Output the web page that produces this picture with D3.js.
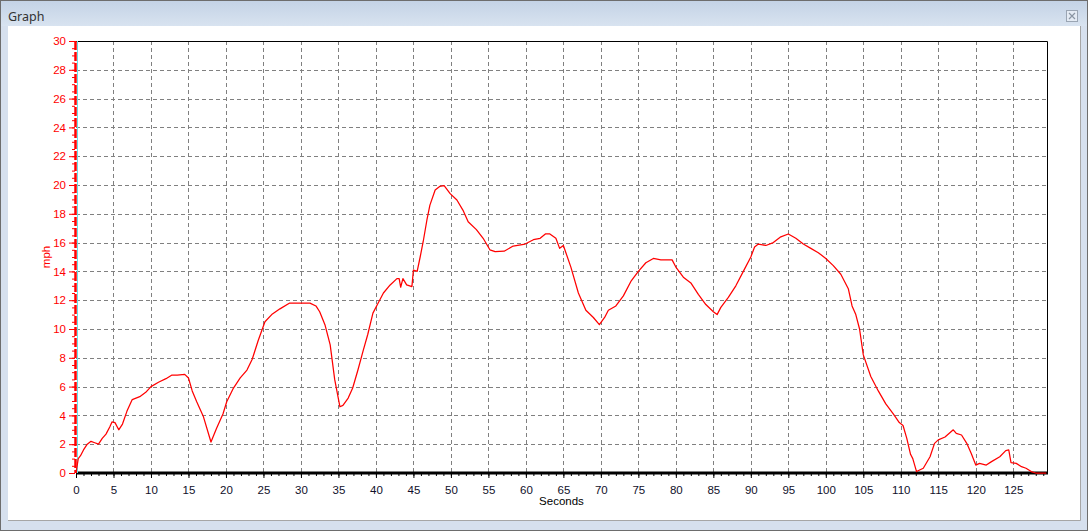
<!DOCTYPE html>
<html>
<head>
<meta charset="utf-8">
<script src="https://cdn.jsdelivr.net/npm/d3@7"></script>
<style>
  body { margin: 0; background: #d6e0ee; }
  svg { display: block; }
</style>
</head>
<body>
<div id="chart"></div>
<script>
// speed trace
var seconds = [0, 0.3, 0.6, 1, 1.5, 2, 2.5, 3, 3.5, 4, 4.5, 4.8, 5.2, 5.7, 6.2, 6.8, 7.5, 8.5, 9.3, 10,
  11, 12, 12.8, 13.5, 14.5, 15, 15.5, 16.1, 17, 18, 18.75, 19.6, 20.1, 21, 21.9, 22.8, 23.5, 24.3, 25.2, 26.1,
  27.2, 28.5, 30, 31.2, 32, 32.5, 33.2, 33.9, 34.5, 35.2, 35.6, 36.3, 36.9, 37.6, 38.3, 38.9, 39.6, 40.3, 41, 41.9,
  42.8, 43.1, 43.3, 43.6, 44.1, 44.8, 45, 45.5, 45.9, 46.3, 46.8, 47.2, 47.9, 48.5, 49.1, 49.9, 50.8, 51.6, 52.3, 53.4,
  54.3, 55.2, 55.9, 57.1, 58.3, 59.9, 61, 61.9, 62.6, 63.2, 64, 64.5, 65, 66, 67, 68, 69, 69.8, 70.5, 71,
  72, 73, 74, 75, 76, 77, 78, 79.5, 80, 81, 82, 83, 84, 85, 85.5, 86, 87, 88, 89, 90,
  90.5, 91, 92, 93, 94, 95, 96, 97, 98, 99, 100, 101, 102, 103, 103.5, 104, 104.5, 105, 106, 107,
  108, 109, 109.8, 110.3, 110.8, 111.3, 111.6, 112.1, 113, 113.9, 114.5, 115, 115.9, 117, 117.4, 118.1, 118.8, 119.4, 120, 120.5,
  121.4, 122.1, 123.2, 124, 124.4, 124.7, 125.4, 126.1, 126.7, 127.4, 128, 129.4];
var mph = [0, 1.0, 1.2, 1.6, 2.0, 2.2, 2.1, 2.0, 2.4, 2.7, 3.2, 3.55, 3.5, 3.0, 3.4, 4.3, 5.1, 5.3, 5.6, 6.0,
  6.3, 6.55, 6.8, 6.8, 6.85, 6.6, 5.7, 4.95, 3.9, 2.15, 3.1, 4.1, 4.95, 5.9, 6.6, 7.15, 7.9, 9.2, 10.5, 11.0,
  11.4, 11.8, 11.8, 11.8, 11.6, 11.2, 10.3, 8.9, 6.5, 4.6, 4.7, 5.2, 5.9, 7.15, 8.5, 9.6, 11.1, 11.8, 12.5, 13.06,
  13.5, 13.5, 12.9, 13.5, 13.06, 12.94, 14.1, 14.0, 15.0, 16.06, 17.57, 18.6, 19.65, 19.9, 19.95, 19.4, 18.96, 18.26, 17.45, 16.9,
  16.3, 15.5, 15.37, 15.4, 15.76, 15.9, 16.2, 16.3, 16.6, 16.6, 16.3, 15.6, 15.8, 14.3, 12.5, 11.3, 10.8, 10.3, 10.8, 11.3,
  11.6, 12.3, 13.3, 14.0, 14.6, 14.9, 14.8, 14.8, 14.3, 13.6, 13.2, 12.4, 11.7, 11.2, 11.0, 11.5, 12.2, 13.0, 14.0, 15.0,
  15.7, 15.9, 15.8, 16.0, 16.4, 16.6, 16.3, 15.9, 15.6, 15.3, 14.9, 14.4, 13.8, 12.8, 11.6, 11.0, 10.0, 8.2, 6.7, 5.7,
  4.8, 4.1, 3.5, 3.3, 2.4, 1.3, 1.0, 0.1, 0.33, 1.13, 2.06, 2.3, 2.5, 3.0, 2.75, 2.64, 2.06, 1.36, 0.55, 0.67,
  0.55, 0.79, 1.13, 1.55, 1.6, 0.72, 0.67, 0.44, 0.33, 0.1, 0, 0];

var xTicks = d3.range(0, 126, 5);
var yTicks = d3.range(0, 31, 2);

var W = 1088, H = 531;
var margin = {left: 76, top: 41, right: 1047, bottom: 473};

var svg = d3.select("#chart").append("svg")
    .attr("width", W)
    .attr("height", H);

// window frame
var defs = svg.append("defs");
var grad = defs.append("linearGradient").attr("id", "titlebar")
    .attr("x1", 0).attr("y1", 0).attr("x2", 0).attr("y2", 1);
grad.append("stop").attr("offset", "0%").attr("stop-color", "#c3d2e5");
grad.append("stop").attr("offset", "100%").attr("stop-color", "#d8e3f0");

svg.append("rect").attr("width", W).attr("height", H).attr("fill", "#d6e0ee");
svg.append("rect").attr("x", 0).attr("y", 0).attr("width", W).attr("height", 26).attr("fill", "url(#titlebar)");
svg.append("rect").attr("x", 0.5).attr("y", 0.5).attr("width", W - 1).attr("height", H - 1)
    .attr("fill", "none").attr("stroke", "#6d6d6d");
svg.append("rect").attr("x", 8).attr("y", 26).attr("width", 1072).attr("height", 494).attr("fill", "#fff");
svg.append("path").attr("d", "M1080.5,26V520.5H8").attr("fill", "none").attr("stroke", "#a6a6a6");

svg.append("text").attr("x", 8).attr("y", 21)
    .style("font-family", "Noto Sans, sans-serif").style("font-size", "12.5px")
    .attr("fill", "#333").text("Graph");

// close button
svg.append("rect").attr("x", 1066.5).attr("y", 10.5).attr("width", 11).attr("height", 11)
    .attr("fill", "#e4ebf4").attr("stroke", "#9aa5b3");
svg.append("path").attr("d", "M1069,13L1075,19M1075,13L1069,19")
    .attr("stroke", "#8a95a3").attr("stroke-width", 1.2);

var x = d3.scaleLinear().domain([0, 129.5]).range([margin.left, margin.right]);
var y = d3.scaleLinear().domain([0, 30]).range([margin.bottom, margin.top]);

// grid
var grid = svg.append("g").attr("stroke", "#808080").attr("stroke-dasharray", "4,3");
grid.selectAll(".gx").data(xTicks.filter(function(d) { return d > 0; }))
  .enter().append("line")
    .attr("x1", function(d) { return Math.round(x(d)) + 0.5; })
    .attr("x2", function(d) { return Math.round(x(d)) + 0.5; })
    .attr("y1", margin.top).attr("y2", margin.bottom);
grid.selectAll(".gy").data(yTicks.filter(function(d) { return d > 0 && d < 30; }))
  .enter().append("line")
    .attr("y1", function(d) { return Math.round(y(d)) + 0.5; })
    .attr("y2", function(d) { return Math.round(y(d)) + 0.5; })
    .attr("x1", margin.left).attr("x2", margin.right);

// box
svg.append("path")
    .attr("d", "M" + margin.left + "," + (margin.top + 0.5) + "H" + (margin.right + 0.5) + "V" + margin.bottom)
    .attr("fill", "none").attr("stroke", "#000");

// x axis
var xAxis = svg.append("g").attr("transform", "translate(0," + margin.bottom + ")");
xAxis.call(d3.axisBottom(x).tickValues(d3.range(0, 130, 1)).tickSize(3).tickFormat(""))
    .call(function(g) { g.select(".domain").remove(); });
xAxis.append("g").call(d3.axisBottom(x).tickValues(xTicks).tickSize(5).tickPadding(8))
    .call(function(g) {
      g.select(".domain").remove();
      g.selectAll("text").attr("fill", "#10102a")
        .style("font-family", "Liberation Sans, Arial, sans-serif").style("font-size", "11.5px");
    });
xAxis.append("line").attr("x1", margin.left).attr("x2", margin.right + 1)
    .attr("stroke", "#000").attr("stroke-width", 3);

svg.append("text").attr("x", (margin.left + margin.right) / 2).attr("y", 505)
    .attr("text-anchor", "middle")
    .style("font-family", "Liberation Sans, Arial, sans-serif").style("font-size", "11.5px")
    .attr("fill", "#000").text("Seconds");

// y axis
var yAxis = svg.append("g").attr("transform", "translate(" + (margin.left - 1) + ",0)");
yAxis.call(d3.axisLeft(y).tickValues(d3.range(0, 30.01, 0.5)).tickSize(3).tickFormat(""))
    .call(function(g) { g.select(".domain").remove(); g.selectAll("line").attr("stroke", "#ff0000"); });
yAxis.append("g").call(d3.axisLeft(y).tickValues(yTicks).tickSize(6).tickPadding(3))
    .call(function(g) {
      g.select(".domain").remove();
      g.selectAll("line").attr("stroke", "#ff0000");
      g.selectAll("text").attr("fill", "#ff0000")
        .style("font-family", "Liberation Sans, Arial, sans-serif").style("font-size", "11.5px");
    });
svg.append("line").attr("x1", margin.left + 1.5).attr("x2", margin.left + 1.5)
    .attr("y1", margin.top).attr("y2", margin.bottom).attr("stroke", "#66e0e8");
svg.append("line").attr("x1", margin.left - 0.5).attr("x2", margin.left - 0.5)
    .attr("y1", margin.top).attr("y2", margin.bottom)
    .attr("stroke", "#ff0000").attr("stroke-width", 2.5).attr("stroke-dasharray", "9,2");

svg.append("text")
    .attr("transform", "translate(50," + ((margin.top + margin.bottom) / 2) + ") rotate(-90)")
    .attr("text-anchor", "middle")
    .style("font-family", "Liberation Sans, Arial, sans-serif").style("font-size", "11.5px")
    .attr("fill", "#ff0000").text("mph");

// speed line
var line = d3.line()
    .x(function(d, i) { return x(seconds[i]); })
    .y(function(d) { return y(d); });

svg.append("path")
    .datum(mph)
    .attr("d", line)
    .attr("fill", "none")
    .attr("stroke", "#ff0000")
    .attr("stroke-width", 1.25)
    .attr("stroke-linejoin", "round");
</script>
</body>
</html>
